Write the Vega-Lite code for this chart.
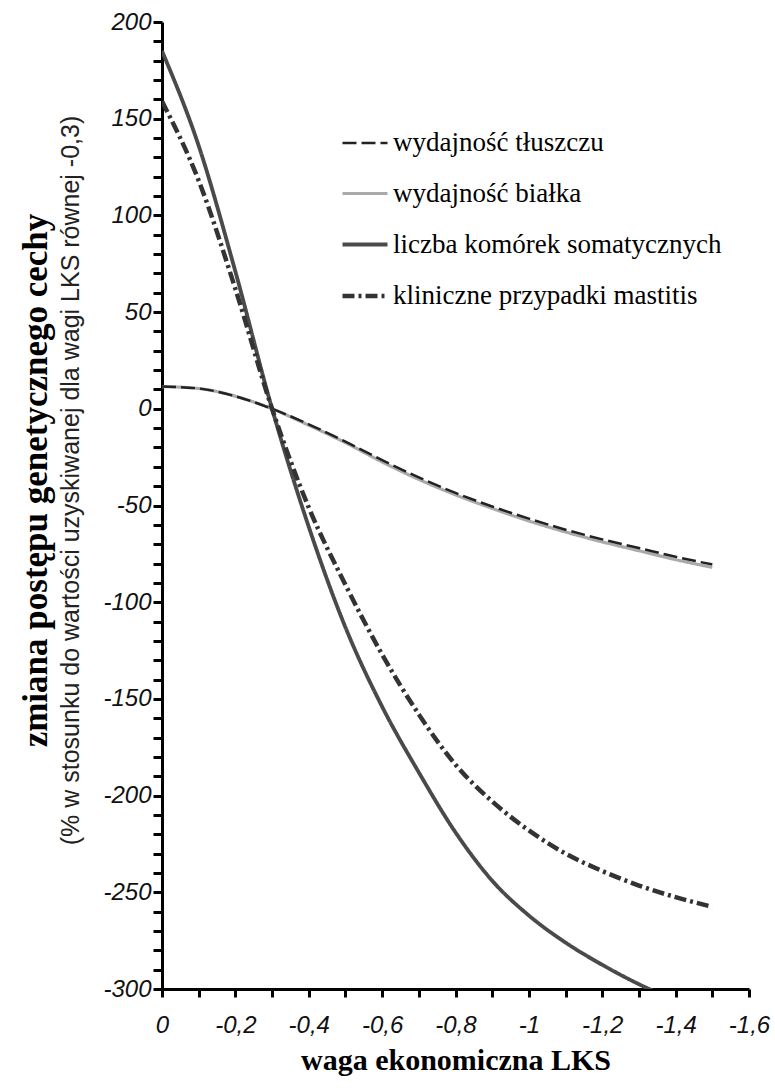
{
  "$schema": "https://vega.github.io/schema/vega-lite/v6.json",
  "width": 587,
  "height": 967,
  "autosize": "none",
  "padding": {"left": 162, "top": 22, "right": 26, "bottom": 103},
  "background": "white",
  "config": {"view": {"stroke": null}},
  "title": {
    "text": "zmiana postępu genetycznego cechy",
    "subtitle": "(% w stosunku do wartości uzyskiwanej dla wagi LKS równej -0,3)",
    "orient": "left",
    "anchor": "middle",
    "frame": "group",
    "dx": 25,
    "font": "Liberation Serif",
    "fontSize": 35,
    "fontWeight": "bold",
    "color": "black",
    "subtitleFont": "Liberation Sans Narrow, Arial Narrow, Liberation Sans",
    "subtitleFontSize": 25,
    "subtitleColor": "#222",
    "subtitlePadding": 5,
    "offset": 19
  },
  "data": {
    "values": [
      {"x": 0, "v": 11.5, "s": "wydajność białka"},
      {"x": -0.1, "v": 10.5, "s": "wydajność białka"},
      {"x": -0.2, "v": 6.5, "s": "wydajność białka"},
      {"x": -0.3, "v": 0, "s": "wydajność białka"},
      {"x": -0.4, "v": -8.5, "s": "wydajność białka"},
      {"x": -0.5, "v": -17.5, "s": "wydajność białka"},
      {"x": -0.6, "v": -27.5, "s": "wydajność białka"},
      {"x": -0.7, "v": -36.5, "s": "wydajność białka"},
      {"x": -0.8, "v": -44.5, "s": "wydajność białka"},
      {"x": -0.9, "v": -51.5, "s": "wydajność białka"},
      {"x": -1.0, "v": -58, "s": "wydajność białka"},
      {"x": -1.1, "v": -63.7, "s": "wydajność białka"},
      {"x": -1.2, "v": -68.8, "s": "wydajność białka"},
      {"x": -1.3, "v": -73.4, "s": "wydajność białka"},
      {"x": -1.4, "v": -78, "s": "wydajność białka"},
      {"x": -1.5, "v": -82, "s": "wydajność białka"},
      {"x": 0, "v": 11.5, "s": "wydajność tłuszczu"},
      {"x": -0.1, "v": 10.5, "s": "wydajność tłuszczu"},
      {"x": -0.2, "v": 6.5, "s": "wydajność tłuszczu"},
      {"x": -0.3, "v": 0, "s": "wydajność tłuszczu"},
      {"x": -0.4, "v": -8, "s": "wydajność tłuszczu"},
      {"x": -0.5, "v": -17, "s": "wydajność tłuszczu"},
      {"x": -0.6, "v": -26.5, "s": "wydajność tłuszczu"},
      {"x": -0.7, "v": -35.5, "s": "wydajność tłuszczu"},
      {"x": -0.8, "v": -43.5, "s": "wydajność tłuszczu"},
      {"x": -0.9, "v": -50.5, "s": "wydajność tłuszczu"},
      {"x": -1.0, "v": -56.8, "s": "wydajność tłuszczu"},
      {"x": -1.1, "v": -62.5, "s": "wydajność tłuszczu"},
      {"x": -1.2, "v": -67.5, "s": "wydajność tłuszczu"},
      {"x": -1.3, "v": -72, "s": "wydajność tłuszczu"},
      {"x": -1.4, "v": -76.5, "s": "wydajność tłuszczu"},
      {"x": -1.5, "v": -80.5, "s": "wydajność tłuszczu"},
      {"x": 0, "v": 185, "s": "liczba komórek somatycznych"},
      {"x": -0.1, "v": 136, "s": "liczba komórek somatycznych"},
      {"x": -0.2, "v": 71, "s": "liczba komórek somatycznych"},
      {"x": -0.3, "v": 0, "s": "liczba komórek somatycznych"},
      {"x": -0.4, "v": -61, "s": "liczba komórek somatycznych"},
      {"x": -0.5, "v": -113, "s": "liczba komórek somatycznych"},
      {"x": -0.6, "v": -154, "s": "liczba komórek somatycznych"},
      {"x": -0.7, "v": -188, "s": "liczba komórek somatycznych"},
      {"x": -0.8, "v": -219, "s": "liczba komórek somatycznych"},
      {"x": -0.9, "v": -244, "s": "liczba komórek somatycznych"},
      {"x": -1.0, "v": -262, "s": "liczba komórek somatycznych"},
      {"x": -1.1, "v": -276, "s": "liczba komórek somatycznych"},
      {"x": -1.2, "v": -287.5, "s": "liczba komórek somatycznych"},
      {"x": -1.3, "v": -297.5, "s": "liczba komórek somatycznych"},
      {"x": -1.4, "v": -306, "s": "liczba komórek somatycznych"},
      {"x": -1.5, "v": -314, "s": "liczba komórek somatycznych"},
      {"x": 0, "v": 159, "s": "kliniczne przypadki mastitis"},
      {"x": -0.1, "v": 118, "s": "kliniczne przypadki mastitis"},
      {"x": -0.2, "v": 62, "s": "kliniczne przypadki mastitis"},
      {"x": -0.3, "v": 0, "s": "kliniczne przypadki mastitis"},
      {"x": -0.4, "v": -51, "s": "kliniczne przypadki mastitis"},
      {"x": -0.5, "v": -91, "s": "kliniczne przypadki mastitis"},
      {"x": -0.6, "v": -127, "s": "kliniczne przypadki mastitis"},
      {"x": -0.7, "v": -158, "s": "kliniczne przypadki mastitis"},
      {"x": -0.8, "v": -184, "s": "kliniczne przypadki mastitis"},
      {"x": -0.9, "v": -203, "s": "kliniczne przypadki mastitis"},
      {"x": -1.0, "v": -218, "s": "kliniczne przypadki mastitis"},
      {"x": -1.1, "v": -230, "s": "kliniczne przypadki mastitis"},
      {"x": -1.2, "v": -239, "s": "kliniczne przypadki mastitis"},
      {"x": -1.3, "v": -246.5, "s": "kliniczne przypadki mastitis"},
      {"x": -1.4, "v": -252.5, "s": "kliniczne przypadki mastitis"},
      {"x": -1.5, "v": -257.5, "s": "kliniczne przypadki mastitis"}
    ]
  },
  "mark": {"type": "line", "clip": true, "interpolate": "monotone"},
  "encoding": {
    "x": {
      "field": "x", "type": "quantitative",
      "scale": {"domain": [-1.6, 0], "reverse": true, "nice": false, "zero": false},
      "axis": {
        "title": "waga ekonomiczna LKS",
        "titleFont": "Liberation Serif", "titleFontSize": 30, "titleFontWeight": "bold", "titleColor": "black",
        "titlePadding": 8,
        "values": [0, -0.1, -0.2, -0.3, -0.4, -0.5, -0.6, -0.7, -0.8, -0.9, -1, -1.1, -1.2, -1.3, -1.4, -1.5, -1.6],
        "labelExpr": "round(datum.value*10) % 2 === 0 ? replace(toString(datum.value), '.', ',') : ''",
        "labelFont": "Arial, Liberation Sans", "labelFontSize": 24, "labelFontStyle": "italic", "labelColor": "#111",
        "labelPadding": 16, "labelFlush": false, "labelOverlap": false,
        "domainColor": "black", "domainWidth": 3,
        "tickColor": "black", "tickWidth": 3, "tickSize": 8,
        "grid": false
      }
    },
    "y": {
      "field": "v", "type": "quantitative",
      "scale": {"domain": [-300, 200], "nice": false},
      "axis": {
        "title": null,
        "values": [200, 190, 180, 170, 160, 150, 140, 130, 120, 110, 100, 90, 80, 70, 60, 50, 40, 30, 20, 10, 0, -10, -20, -30, -40, -50, -60, -70, -80, -90, -100, -110, -120, -130, -140, -150, -160, -170, -180, -190, -200, -210, -220, -230, -240, -250, -260, -270, -280, -290, -300],
        "labelExpr": "datum.value % 50 === 0 ? toString(datum.value) : ''",
        "labelFont": "Arial, Liberation Sans", "labelFontSize": 24, "labelFontStyle": "italic", "labelColor": "#111",
        "labelPadding": 2, "labelFlush": false, "labelOverlap": false,
        "domainColor": "black", "domainWidth": 3,
        "tickColor": "black", "tickWidth": 3, "tickSize": 9,
        "grid": false
      }
    },
    "color": {
      "field": "s", "type": "nominal",
      "scale": {
        "domain": ["wydajność tłuszczu", "wydajność białka", "liczba komórek somatycznych", "kliniczne przypadki mastitis"],
        "range": ["#222222", "#aaaaaa", "#4a4a4a", "#333333"]
      },
      "legend": {
        "title": null,
        "orient": "none", "legendX": 178, "legendY": 97,
        "symbolType": "stroke", "symbolSize": 2025,
        "labelFont": "Liberation Serif", "labelFontSize": 27, "labelColor": "black",
        "labelLimit": 420, "labelOffset": 3, "rowPadding": 13, "padding": 0
      }
    },
    "strokeDash": {
      "field": "s", "type": "nominal",
      "scale": {
        "domain": ["wydajność tłuszczu", "wydajność białka", "liczba komórek somatycznych", "kliniczne przypadki mastitis"],
        "range": [[14, 5], [1, 0], [1, 0], [12, 4, 3, 4]]
      },
      "legend": {
        "title": null,
        "orient": "none", "legendX": 178, "legendY": 97,
        "symbolType": "stroke", "symbolSize": 2025,
        "labelFont": "Liberation Serif", "labelFontSize": 27, "labelColor": "black",
        "labelLimit": 420, "labelOffset": 3, "rowPadding": 13, "padding": 0
      }
    },
    "strokeWidth": {
      "field": "s", "type": "nominal",
      "scale": {
        "domain": ["wydajność tłuszczu", "wydajność białka", "liczba komórek somatycznych", "kliniczne przypadki mastitis"],
        "range": [2.5, 4.5, 2, 2]
      },
      "legend": {
        "title": null,
        "orient": "none", "legendX": 178, "legendY": 97,
        "symbolType": "stroke", "symbolSize": 2025,
        "labelFont": "Liberation Serif", "labelFontSize": 27, "labelColor": "black",
        "labelLimit": 420, "labelOffset": 3, "rowPadding": 13, "padding": 0
      }
    }
  }
}
